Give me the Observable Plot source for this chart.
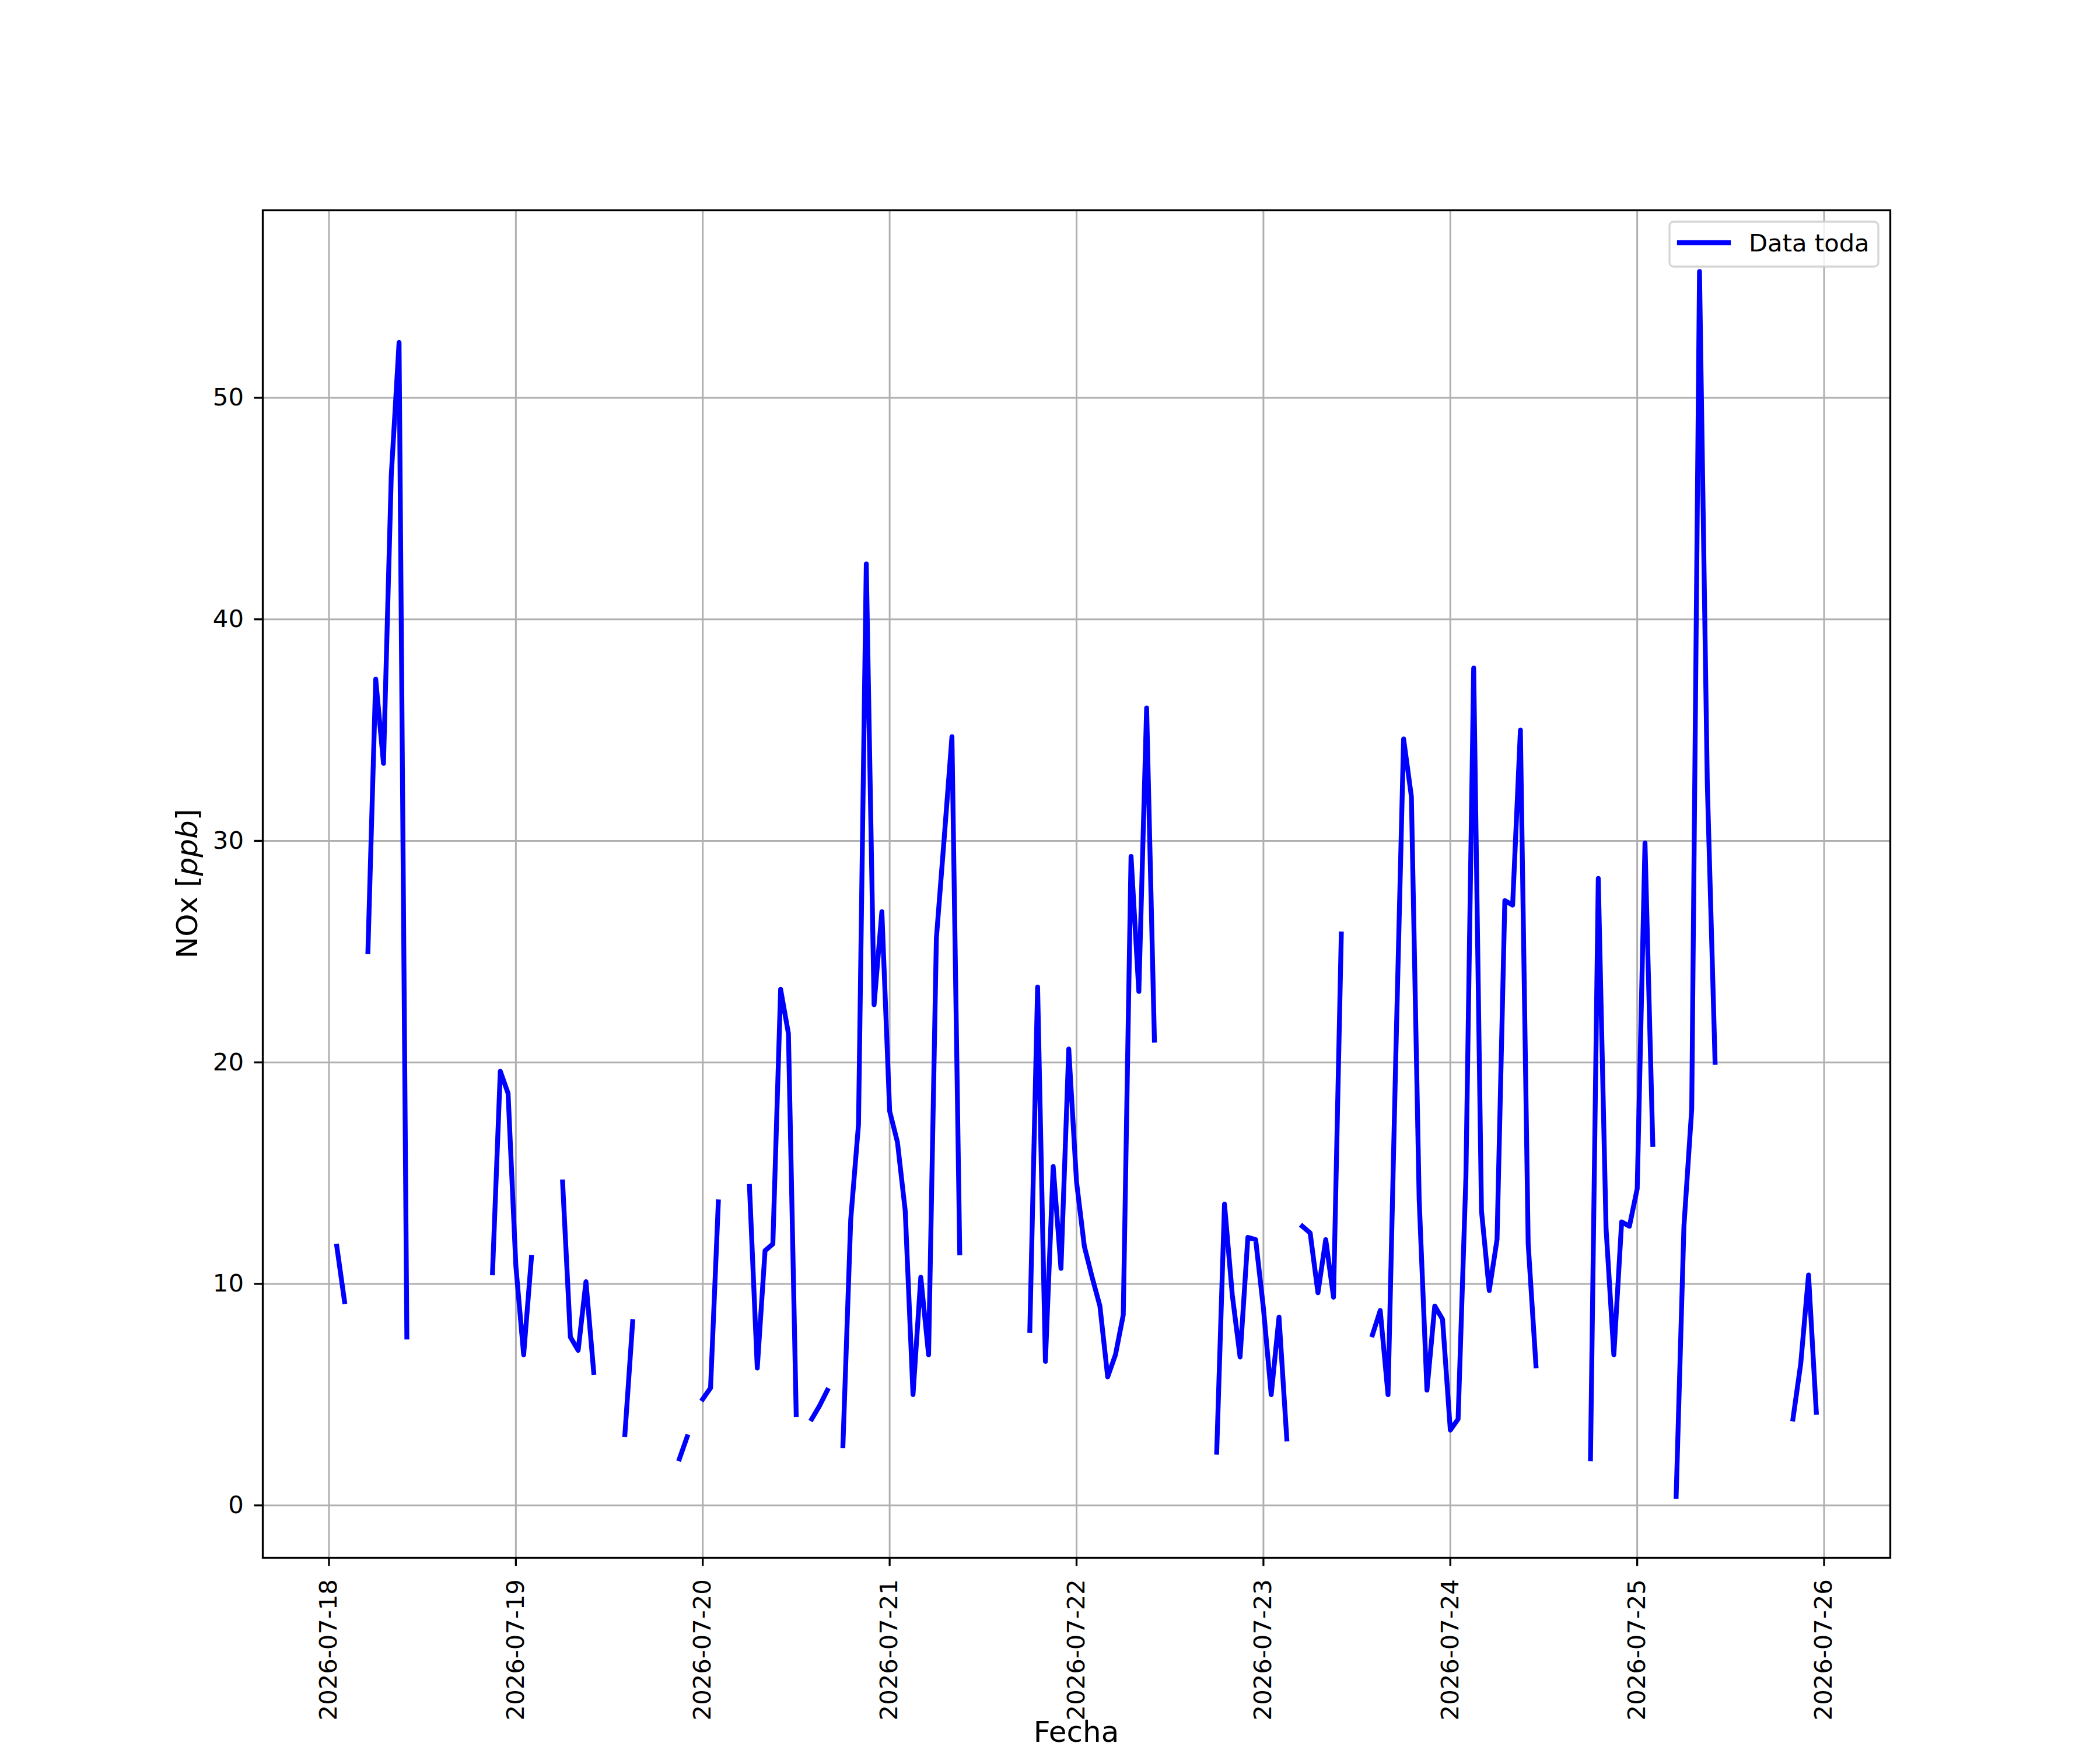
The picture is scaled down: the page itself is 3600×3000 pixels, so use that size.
<!DOCTYPE html>
<html>
<head>
<meta charset="utf-8">
<script src="https://cdn.jsdelivr.net/npm/d3@7"></script>
<script src="https://cdn.jsdelivr.net/npm/@observablehq/plot@0.6"></script>
<style>
  html, body { margin: 0; padding: 0; background: #ffffff; }
  #chart svg { display: block; }
</style>
</head>
<body>
<div id="chart"></div>
<script>
// ---- data: hourly NOx [ppb], one array per day (null = no data) ----
const firstDay = "2026-07-18";
const nox_0718 = [null, 11.7, 9.2, null, null, 25.0, 37.3, 33.5, 46.5, 52.5, 7.6, null,
                  null, null, null, null, null, null, null, null, null, 10.5, 19.6, 18.6];
const nox_0719 = [10.8, 6.8, 11.2, null, null, null, 14.6, 7.6, 7.0, 10.1, 6.0, null,
                  null, null, 3.2, 8.3, null, null, null, null, null, 2.1, 3.1, null];
const nox_0720 = [4.8, 5.3, 13.7, null, null, null, 14.4, 6.2, 11.5, 11.8, 23.3, 21.3,
                  4.1, null, 3.9, 4.5, 5.2, null, 2.7, 12.9, 17.2, 42.5, 22.6, 26.8];
const nox_0721 = [17.8, 16.4, 13.3, 5.0, 10.3, 6.8, 25.6, 30.1, 34.7, 11.4, null, null,
                  null, null, null, null, null, null, 7.9, 23.4, 6.5, 15.3, 10.7, 20.6];
const nox_0722 = [14.6, 11.7, 10.3, 9.0, 5.8, 6.8, 8.6, 29.3, 23.2, 36.0, 21.0, null,
                  null, null, null, null, null, null, 2.4, 13.6, 9.5, 6.7, 12.1, 12.0];
const nox_0723 = [8.9, 5.0, 8.5, 3.0, null, 12.6, 12.3, 9.6, 12.0, 9.4, 25.8, null,
                  null, null, 7.7, 8.8, 5.0, 20.3, 34.6, 32.0, 13.8, 5.2, 9.0, 8.4];
const nox_0724 = [3.4, 3.9, 14.8, 37.8, 13.3, 9.7, 12.0, 27.3, 27.1, 35.0, 11.8, 6.3,
                  null, null, null, null, null, null, 2.1, 28.3, 12.5, 6.8, 12.8, 12.6];
const nox_0725 = [14.3, 29.9, 16.3, null, null, 0.4, 12.6, 17.9, 55.7, 32.6, 20.0, null,
                  null, null, null, null, null, null, null, null, 3.9, 6.4, 10.4, 4.2];

const xTickLabels = ["2026-07-18", "2026-07-19", "2026-07-20", "2026-07-21", "2026-07-22",
                     "2026-07-23", "2026-07-24", "2026-07-25", "2026-07-26"];
const yTicks = [0, 10, 20, 30, 40, 50];
const seriesName = "Data toda";
const xLabel = "Fecha";
const yLabelPlain = "NOx ";
const yLabelMath = ["[", "ppb", "]"];

// ---- build table ----
const days = [nox_0718, nox_0719, nox_0720, nox_0721, nox_0722, nox_0723, nox_0724, nox_0725];
const day0 = d3.utcParse("%Y-%m-%d")(firstDay);
const data = [];
days.forEach((arr, d) => arr.forEach((v, h) => {
  data.push({date: d3.utcHour.offset(d3.utcDay.offset(day0, d), h), value: v});
}));
const valid = data.filter(d => d.value != null);
const xExt = d3.extent(valid, d => +d.date);
const yExt = d3.extent(valid, d => d.value);
const xPad = (xExt[1] - xExt[0]) * 0.05;
const yPad = (yExt[1] - yExt[0]) * 0.05;
const xDomain = [new Date(xExt[0] - xPad), new Date(xExt[1] + xPad)];
const yDomain = [yExt[0] - yPad, yExt[1] + yPad];
const xTicks = xTickLabels.map(d3.utcParse("%Y-%m-%d"));

const FONT = "DejaVu Sans";
const TICK_FS = 41.7;
const LABEL_FS = 50;

const chart = Plot.plot({
  width: 3600,
  height: 3000,
  marginLeft: 450,
  marginRight: 360,
  marginTop: 360,
  marginBottom: 330,
  style: {fontFamily: FONT, fontSize: TICK_FS + "px", background: "#ffffff", color: "#000000", overflow: "visible"},
  x: {type: "utc", domain: xDomain},
  y: {domain: yDomain},
  marks: [
    Plot.gridX(xTicks, {stroke: "#b0b0b0", strokeOpacity: 1, strokeWidth: 3}),
    Plot.gridY(yTicks, {stroke: "#b0b0b0", strokeOpacity: 1, strokeWidth: 3}),
    Plot.lineY(data, {x: "date", y: "value", stroke: "#0000ff", strokeWidth: 8.3,
                      strokeLinejoin: "round", strokeLinecap: "square"}),
    Plot.frame({stroke: "#000000", strokeWidth: 3.3}),
    Plot.axisX(xTicks, {tickFormat: d3.utcFormat("%Y-%m-%d"), tickRotate: -90, tickSize: 14.6,
                        tickPadding: 22, strokeWidth: 3.3, fontSize: TICK_FS, label: null,
                        stroke: "#000000", fill: "#000000"}),
    Plot.axisY(yTicks, {tickSize: 14.6, tickPadding: 18, strokeWidth: 3.3, fontSize: TICK_FS,
                        label: null, stroke: "#000000", fill: "#000000"})
  ]
});
document.getElementById("chart").appendChild(chart);

// ---- labels and legend (matplotlib-style) ----
const svg = d3.select(chart);
const plotLeft = 450, plotRight = 3240, plotTop = 360, plotBottom = 2670;

svg.append("text")
  .attr("x", (plotLeft + plotRight) / 2)
  .attr("y", 2986)
  .attr("text-anchor", "middle")
  .attr("font-family", FONT)
  .attr("font-size", LABEL_FS)
  .attr("fill", "#000")
  .text(xLabel);

const yl = svg.append("text")
  .attr("transform", `translate(338,${(plotTop + plotBottom) / 2}) rotate(-90)`)
  .attr("text-anchor", "middle")
  .attr("font-family", FONT)
  .attr("font-size", LABEL_FS)
  .attr("fill", "#000");
yl.append("tspan").text(yLabelPlain + yLabelMath[0]);
yl.append("tspan").attr("font-style", "italic").text(yLabelMath[1]);
yl.append("tspan").text(yLabelMath[2]);

const lg = svg.append("g").attr("text-anchor", "start");
lg.append("rect")
  .attr("x", 2862).attr("y", 380).attr("width", 358).attr("height", 77)
  .attr("rx", 7).attr("ry", 7)
  .attr("fill", "#ffffff").attr("fill-opacity", 0.8)
  .attr("stroke", "#cccccc").attr("stroke-opacity", 0.8).attr("stroke-width", 3.3);
lg.append("line")
  .attr("x1", 2879).attr("x2", 2963).attr("y1", 416).attr("y2", 416)
  .attr("stroke", "#0000ff").attr("stroke-width", 8.3).attr("stroke-linecap", "square");
lg.append("text")
  .attr("x", 2998).attr("y", 431)
  .attr("text-anchor", "start")
  .attr("font-family", FONT).attr("font-size", TICK_FS).attr("fill", "#000")
  .text(seriesName);
</script>
</body>
</html>
